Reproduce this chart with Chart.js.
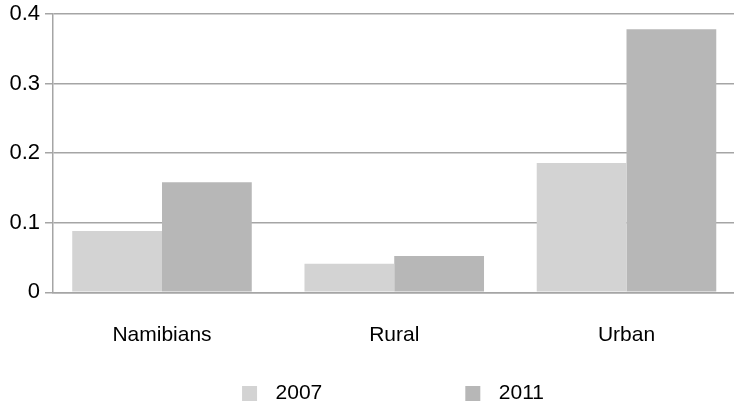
<!DOCTYPE html>
<html><head><meta charset="utf-8">
<script src="https://cdn.jsdelivr.net/npm/chart.js@4.4.0/dist/chart.umd.min.js"></script>
<style>
html,body{margin:0;padding:0;overflow:hidden;background:#fff;width:734px;height:402px;}
#wrap{position:absolute;left:-89px;top:0;width:831px;height:414px;}
</style></head><body>
<div id="wrap"><canvas id="c" width="831" height="414"></canvas></div>
<script>
const categories = ['Namibians', 'Rural', 'Urban'];
const series2007 = [0.088, 0.041, 0.186];
const series2011 = [0.158, 0.052, 0.378];
const seriesNames = ['2007', '2011'];
const yTicks = [0, 0.1, 0.2, 0.3, 0.4];
const colors = ['#d3d3d3', '#b7b7b7'];

function swatch(color) {
  const c = document.createElement('canvas');
  c.width = 156; c.height = 15;
  const g = c.getContext('2d');
  g.fillStyle = color;
  g.fillRect(133, 0, 15, 15);
  return c;
}
const swatches = colors.map(swatch);
const toPoints = arr => arr.map((v, i) => ({x: i, y: v}));

Chart.defaults.font.family = "'Liberation Sans', Arial, sans-serif";
Chart.defaults.color = '#000';
const gridColor = '#a5a5a5';

new Chart(document.getElementById('c'), {
  type: 'bar',
  data: {
    datasets: [
      {label: seriesNames[0], data: toPoints(series2007), backgroundColor: colors[0]},
      {label: seriesNames[1], data: toPoints(series2011), backgroundColor: colors[1]}
    ]
  },
  options: {
    responsive: false, animation: false, devicePixelRatio: 1,
    categoryPercentage: 0.773, barPercentage: 1,
    layout: {padding: {top: 14, left: 0, right: 0, bottom: 0}},
    plugins: {
      legend: {
        position: 'bottom',
        labels: {
          usePointStyle: true, pointStyleWidth: 156, padding: 10,
          font: {size: 21}, color: '#000',
          generateLabels(chart) {
            const items = Chart.defaults.plugins.legend.labels.generateLabels(chart);
            items.forEach((it, i) => { it.pointStyle = swatches[i]; });
            return items;
          }
        }
      },
      tooltip: {enabled: false}
    },
    scales: {
      x: {
        type: 'linear', min: -0.4693, max: 2.4973, offset: false,
        grid: {display: false},
        border: {display: true, color: gridColor, width: 1.5},
        ticks: {font: {size: 21}, padding: 22, color: '#000', autoSkip: false,
          callback: (v) => (categories[v] !== undefined ? categories[v] : '')},
        afterBuildTicks: (s) => { s.ticks = categories.map((c, i) => ({value: i})); },
        afterFit: (s) => { s.height = 80.7; s.paddingLeft = 0; s.paddingRight = 0; }
      },
      y: {
        min: 0, max: 0.4,
        grid: {color: gridColor, lineWidth: 1.5, tickLength: 8, tickColor: gridColor},
        border: {color: gridColor, width: 1.5},
        ticks: {font: {size: 22}, padding: 5, color: '#000', callback: (v) => String(v)},
        afterBuildTicks: (s) => { s.ticks = yTicks.map(v => ({value: v})); },
        afterFit: (s) => { s.width = 142; s.paddingTop = 0; s.paddingBottom = 0; }
      }
    }
  }
});
</script>
</body></html>
